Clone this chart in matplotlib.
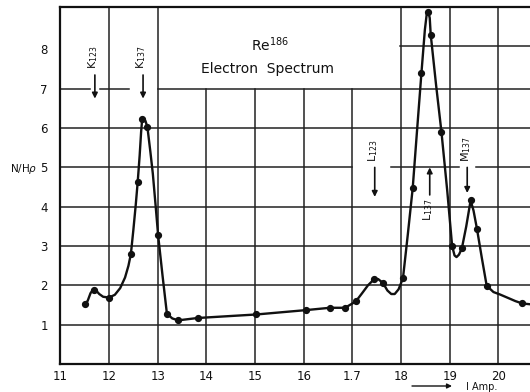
import matplotlib
matplotlib.use("Agg")
import matplotlib.pyplot as plt

# measured points (I in amp, N/H-rho)
point_x = [11.50, 11.70, 12.00, 12.45, 12.59, 12.68, 12.79, 13.01, 13.19, 13.42,
           13.82, 15.03, 16.04, 16.54, 16.85, 17.07, 17.45, 17.63, 18.04, 18.24,
           18.42, 18.56, 18.61, 18.83, 19.05, 19.25, 19.43, 19.56, 19.76, 20.49]
point_y = [1.53, 1.89, 1.69, 2.80, 4.63, 6.22, 6.02, 3.27, 1.28, 1.11,
           1.17, 1.26, 1.37, 1.43, 1.43, 1.59, 2.16, 2.06, 2.18, 4.47,
           7.41, 8.96, 8.38, 5.91, 3.00, 2.94, 4.16, 3.44, 1.99, 1.54]

# hand-drawn curve through the points
curve_x = [11.49, 11.56, 11.62, 11.67, 11.72, 11.80, 11.88, 12.00, 12.12, 12.23,
           12.33, 12.40, 12.45, 12.50, 12.55, 12.59, 12.63, 12.66, 12.68, 12.71,
           12.75, 12.79, 12.85, 12.90, 12.96, 13.01, 13.10, 13.19, 13.30, 13.42,
           13.82, 15.03, 16.04, 16.54, 16.85, 17.07, 17.20, 17.32, 17.45, 17.53,
           17.63, 17.72, 17.80, 17.87, 17.95, 18.04, 18.14, 18.24, 18.33, 18.42,
           18.49, 18.53, 18.56, 18.59, 18.61, 18.72, 18.83, 18.95, 19.05, 19.10,
           19.14, 19.19, 19.25, 19.34, 19.43, 19.49, 19.56, 19.66, 19.76, 19.90,
           20.03, 20.20, 20.35, 20.49, 20.65]
curve_y = [1.53, 1.60, 1.80, 1.89, 1.89, 1.78, 1.71, 1.69, 1.76, 1.93,
           2.20, 2.50, 2.80, 3.40, 4.05, 4.63, 5.30, 5.90, 6.20, 6.24,
           6.18, 6.02, 5.40, 4.85, 4.00, 3.27, 2.25, 1.28, 1.16, 1.11,
           1.17, 1.26, 1.37, 1.43, 1.43, 1.59, 1.80, 2.00, 2.16, 2.16,
           2.06, 1.87, 1.78, 1.78, 1.90, 2.18, 3.30, 4.47, 5.95, 7.41,
           8.50, 8.92, 8.96, 8.80, 8.38, 7.10, 5.91, 4.40, 3.00, 2.76,
           2.72, 2.78, 2.94, 3.50, 4.16, 3.90, 3.44, 2.70, 1.99, 1.83,
           1.77, 1.68, 1.60, 1.54, 1.52]

x_ticks = [11, 12, 13, 14, 15, 16, 17, 18, 19, 20]
x_tick_labels = ["11", "12", "13", "14", "15", "16", "1.7", "18", "19", "20"]
y_ticks = [1, 2, 3, 4, 5, 6, 7, 8]

# line markers: (label, subscript, x, arrow from y, arrow to y)
line_marks = [("K", "123", 11.71, 7.35, 6.75),
              ("K", "137", 12.70, 7.35, 6.75),
              ("L", "123", 17.46, 5.00, 4.25),
              ("M", "137", 19.36, 5.00, 4.35)]

ink = "#111111"
grid_ink = "#222222"

fig = plt.figure(figsize=(5.30, 3.92), dpi=100)
ax = fig.add_axes([0.1138, 0.0714, 0.8862, 0.9108])
ax.set_xlim(11, 20.65)
ax.set_ylim(0, 9.08)

# grid, drawn in pieces like the original graph paper
for gx in [12, 13, 18, 19, 20]:
    ax.plot([gx, gx], [0, 9.08], color=grid_ink, lw=1.1, zorder=1)
for gx in [14, 15, 16, 17]:
    ax.plot([gx, gx], [0, 7], color=grid_ink, lw=1.1, zorder=1)
for gy in [1, 2, 3, 4, 6]:
    ax.plot([11, 20.65], [gy, gy], color=grid_ink, lw=1.1, zorder=1)
for x0, x1 in [(11, 11.62), (11.82, 12.42), (13.0, 20.65)]:
    ax.plot([x0, x1], [7, 7], color=grid_ink, lw=1.1, zorder=1)
for x0, x1 in [(11, 17.0), (17.8, 19.2), (19.55, 20.65)]:
    ax.plot([x0, x1], [5, 5], color=grid_ink, lw=1.1, zorder=1)
ax.plot([17.98, 20.65], [8.1, 8.1], color=grid_ink, lw=1.1, zorder=1)

ax.plot(curve_x, curve_y, color=ink, lw=1.7, zorder=3, solid_capstyle="round")
ax.plot(point_x, point_y, "o", color=ink, ms=4.2, zorder=4)

for s in ["left", "bottom", "top"]:
    ax.spines[s].set_linewidth(1.6)
    ax.spines[s].set_color(ink)
ax.spines["right"].set_visible(False)

ax.set_xticks(x_ticks)
ax.set_xticklabels(x_tick_labels)
ax.set_yticks(y_ticks)
ax.tick_params(length=0, labelsize=8.5, colors=ink)
ax.tick_params(axis="x", pad=4)
ax.tick_params(axis="y", pad=9)

# title
ax.text(15.3, 8.12, r"Re$^{186}$", ha="center", va="center", fontsize=10, color=ink)
ax.text(15.25, 7.5, "Electron  Spectrum", ha="center", va="center", fontsize=10, color=ink)

# line labels with arrows
for name, sub, lx, y0, y1 in line_marks:
    ax.annotate("", xy=(lx, y1), xytext=(lx, y0),
                arrowprops=dict(arrowstyle="-|>", color=ink, lw=1.2,
                                mutation_scale=8, shrinkA=0, shrinkB=0))
    ax.text(lx - 0.03, y0 + 0.15, name + "$_{" + sub + "}$", rotation=90,
            ha="center", va="bottom", fontsize=8, color=ink)

# L137 arrow points up, label below it
ax.annotate("", xy=(18.59, 5.0), xytext=(18.59, 4.3),
            arrowprops=dict(arrowstyle="-|>", color=ink, lw=1.2,
                            mutation_scale=8, shrinkA=0, shrinkB=0))
ax.text(18.56, 4.22, "L$_{137}$", rotation=90, ha="center", va="top",
        fontsize=8, color=ink)

# y label and x unit
fig.text(0.019, 1 - 169 / 392, r"N/H$\rho$", ha="left", va="center",
         fontsize=7.5, color=ink)
ax.annotate("", xy=(452 / 530, 1 - 386 / 392), xytext=(412 / 530, 1 - 386 / 392),
            xycoords="figure fraction", textcoords="figure fraction",
            annotation_clip=False,
            arrowprops=dict(arrowstyle="-|>", color=ink, lw=1.0,
                            mutation_scale=7, shrinkA=0, shrinkB=0))
fig.text(466 / 530, 1 - 387.5 / 392, "I Amp.", ha="left", va="center",
         fontsize=7, color=ink)

fig.savefig("out.png", dpi=100)
